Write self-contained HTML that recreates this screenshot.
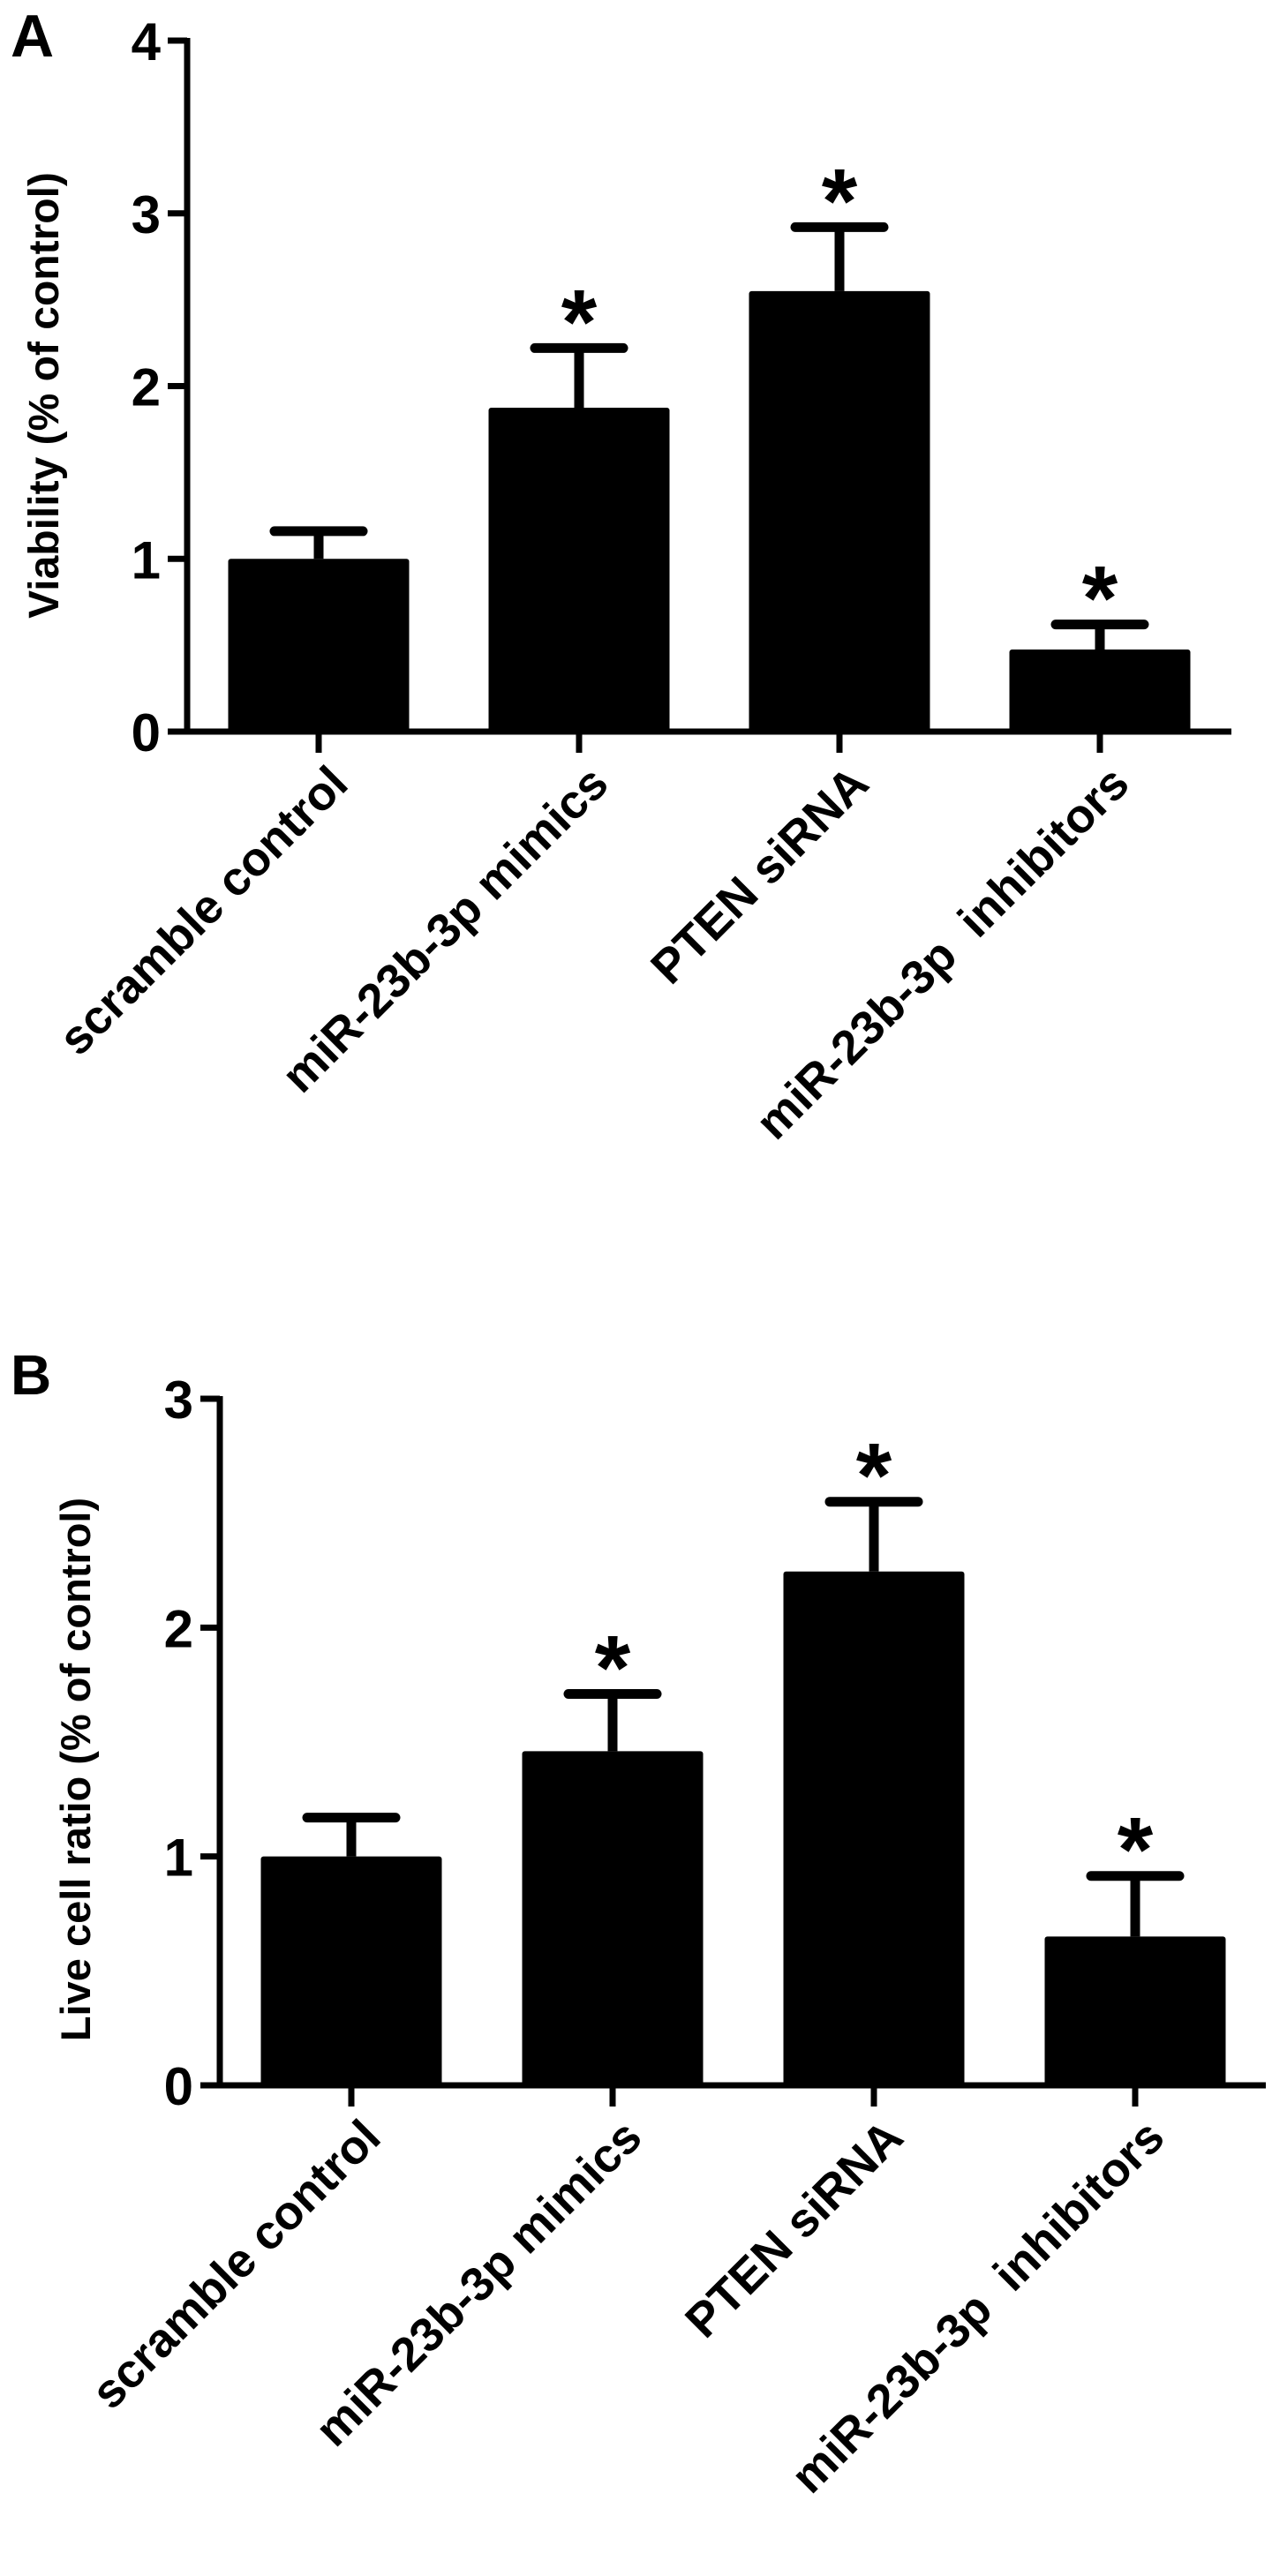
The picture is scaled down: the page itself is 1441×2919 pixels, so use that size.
<!DOCTYPE html>
<html><head><meta charset="utf-8"><style>
html,body{margin:0;padding:0;background:#fff;}
svg{display:block;font-family:"Liberation Sans",Arial,sans-serif;font-weight:bold;}
</style></head><body>
<svg id="fig" width="1441" height="2919" viewBox="0 0 1441 2919">
<text x="12" y="64" font-size="68">A</text>
<text x="12" y="1580" font-size="64">B</text>
<text transform="translate(66,448) rotate(-90)" text-anchor="middle" font-size="48">Viability (% of control)</text>
<text transform="translate(102,2005) rotate(-90)" text-anchor="middle" font-size="47">Live cell ratio (% of control)</text>
</svg>
<script>
const categories = ["scramble control","miR-23b-3p mimics","PTEN siRNA","miR-23b-3p\u00a0 inhibitors"];
const viabilityValues = [1.0, 1.875, 2.55, 0.475];
const viabilityErrors = [0.16, 0.345, 0.37, 0.145];
const viabilityTicks = [0,1,2,3,4];
const viabilitySig = [false,true,true,true];
const liveValues = [1.0, 1.46, 2.245, 0.65];
const liveErrors = [0.17, 0.25, 0.305, 0.265];
const liveTicks = [0,1,2,3];
const liveSig = [false,true,true,true];

const NS="http://www.w3.org/2000/svg";
const svg=document.getElementById('fig');
function mk(tag,attrs){const e=document.createElementNS(NS,tag);for(const k in attrs)e.setAttribute(k,attrs[k]);svg.appendChild(e);return e;}

function drawPanel(p, values, errors, ticks, sig, prefix){
  const ymax=ticks[ticks.length-1];
  const y=v=>p.y0-(p.y0-p.yTop)*v/ymax;
  const x=i=>p.c0+i*p.step;
  values.forEach((v,i)=>{
    const cx=x(i);
    const top=y(v+errors[i]);
    const el=mk('line',{x1:cx,y1:y(v),x2:cx,y2:top,stroke:'#000','stroke-width':11});
    
    
    const cap=mk('line',{x1:cx-50,y1:top,x2:cx+50,y2:top,stroke:'#000','stroke-width':11,'stroke-linecap':'round'});
    
    
    const r=mk('rect',{x:cx-p.bw/2,y:y(v),width:p.bw,height:p.y0-y(v),fill:'#000',rx:3});
    
    
    if(sig[i]){
      const s=mk('text',{x:cx,y:top+6,'text-anchor':'middle','font-size':104});
      s.textContent='*';
      
      
    }
    const tk=mk('line',{x1:cx,y1:p.y0,x2:cx,y2:p.y0+24,stroke:'#000','stroke-width':7});
    
    
    const lb=mk('text',{transform:`translate(${cx+36},${p.y0+62}) rotate(-45)`,'text-anchor':'end','font-size':54});
    lb.textContent=categories[i];
    
    
  });
  const ya=mk('line',{x1:p.ax,y1:p.yTop-3,x2:p.ax,y2:p.y0+3,stroke:'#000','stroke-width':7});
  
  
  const xa=mk('line',{x1:p.ax-3,y1:p.y0,x2:p.xEnd,y2:p.y0,stroke:'#000','stroke-width':7});
  
  
  ticks.forEach(t=>{
    const l=mk('line',{x1:p.ax-22,y1:y(t),x2:p.ax,y2:y(t),stroke:'#000','stroke-width':7});
    
    
    const tx=mk('text',{x:p.ax-30,y:y(t)+22,'text-anchor':'end','font-size':60});
    tx.textContent=t;
    
    
  });
}
drawPanel({ax:212,y0:829,yTop:46,c0:361,step:295,bw:205,xEnd:1395}, viabilityValues, viabilityErrors, viabilityTicks, viabilitySig, 'panel-a');
drawPanel({ax:249,y0:2363,yTop:1585,c0:398,step:296,bw:205,xEnd:1434}, liveValues, liveErrors, liveTicks, liveSig, 'panel-b');
</script>
</body></html>
